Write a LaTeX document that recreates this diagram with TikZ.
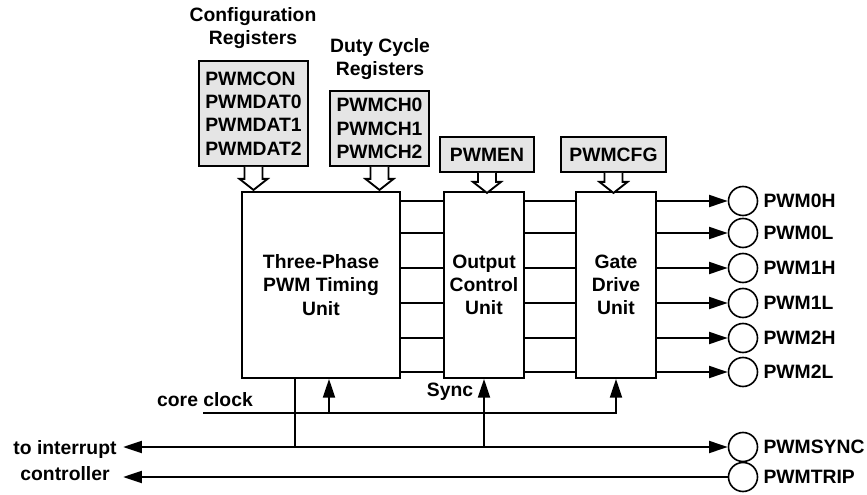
\documentclass[tikz,border=0pt]{standalone}
\usepackage{fontspec}
\setmainfont{Liberation Sans}
\usetikzlibrary{arrows.meta,positioning}

\begin{document}
\begin{tikzpicture}[x=0.75pt,y=0.75pt,yscale=-1,xscale=1,
  font=\fontsize{14.5}{17.5}\selectfont\bfseries,
  every node/.style={inner sep=0.75pt},
  >={Triangle[length=14pt,width=9pt]},
  reg/.style={draw,line width=1.4pt,fill=black!10,align=left},
  unit/.style={draw,line width=1.4pt,fill=white,minimum width=60pt,minimum height=139.5pt,align=center},
  pin/.style={draw,circle,line width=1.2pt,minimum size=21.75pt,inner sep=0pt},
  wire/.style={line width=1.4pt},
  pics/bus/.style={code={\draw[line width=1.4pt,fill=white] (-9,0) -- (-9,11-#1) -- (-14,11-#1) -- (0,-#1) -- (14,11-#1) -- (9,11-#1) -- (9,0);}}
]
\useasboundingbox (0,0) rectangle (867,495);

% Register boxes
\node[align=center] (cfgt) at (253,28) {Configuration\\Registers};
\node[reg,minimum width=81.75pt,minimum height=78.75pt] (cfg) at (253.5,113.5) {PWMCON\\PWMDAT0\\PWMDAT1\\PWMDAT2};
\node[align=center] (dutyt) at (380,59) {Duty Cycle\\Registers};
\node[reg,minimum width=74.25pt,minimum height=56.25pt] (duty) at (379.5,128.5) {PWMCH0\\PWMCH1\\PWMCH2};
\node[reg,minimum width=70.5pt,minimum height=26.25pt] (en) at (487,154.5) {PWMEN};
\node[reg,minimum width=78.75pt,minimum height=26.25pt] (gcfg) at (613.5,154.5) {PWMCFG};

% Units
\node[unit,minimum width=118.5pt] (timing) at (321,285) {Three-Phase\\PWM Timing\\Unit};
\node[unit] (occ) at (484,285) {Output\\Control\\Unit};
\node[unit] (gate) at (616,285) {Gate\\Drive\\Unit};

% Bus arrows
\pic at (cfg.south) {bus=23};
\pic at (duty.south) {bus=23};
\pic at (en.south) {bus=20};
\pic at (gcfg.south) {bus=20};

% PWM outputs
\foreach \n/\y/\t in {0/201/PWM0H,1/233/PWM0L,2/268/PWM1H,3/303/PWM1L,4/338/PWM2H,5/372/PWM2L} {
  \node[pin] (o\n) at (743,\y) {};
  \node[right=3pt of o\n] (ol\n) {\t};
  \draw[wire] (timing.east |- o\n) -- (occ.west |- o\n);
  \draw[wire] (occ.east |- o\n) -- (gate.west |- o\n);
  \draw[wire,->] (gate.east |- o\n) -- (o\n);
}

% Sync and trip
\node[pin] (psync) at (743,447) {};
\node[right=3pt of psync] (psyncl) {PWMSYNC};
\node[pin] (ptrip) at (743,477) {};
\node[right=3pt of ptrip] (ptripl) {PWMTRIP};
\node[align=center,font=\fontsize{14.5}{19.5}\selectfont\bfseries] (intr) at (65,461) {to interrupt\\controller};
\draw[wire,<->] ([xshift=4pt]intr.east |- psync) -- (psync.west);
\draw[wire,<-] ([xshift=4pt]intr.east |- ptrip) -- (ptrip.west);
\coordinate (tap) at (295,447);
\draw[wire] (timing.south -| tap) -- (tap);
\draw[wire,->] (occ.south |- psync) -- (occ.south);
\node (sync) at (450,392) {Sync};

% Core clock
\node (clkl) at (205,400) {core clock};
\coordinate (clk) at (203,413);
\coordinate (tclk) at (329,413);
\draw[wire,->] (clk) -- (clk -| gate.south) -- (gate.south);
\draw[wire,->] (tclk) -- (tclk |- timing.south);

\end{tikzpicture}
\end{document}
